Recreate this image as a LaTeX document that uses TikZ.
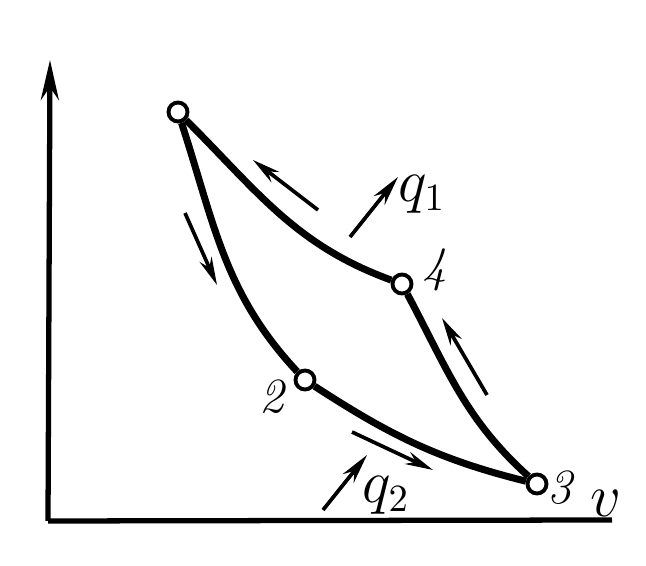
\documentclass[tikz,border=0pt]{standalone}
\usetikzlibrary{arrows.meta}
\begin{document}
\begin{tikzpicture}[
    state/.style={circle, draw, fill=white, line width=1.1pt, inner sep=0pt, minimum size=0.19cm},
    branch/.style={line width=2pt},
    flow/.style={line width=1.05pt, -{Stealth[length=2.8mm,width=1.3mm]}},
    heat/.style={line width=1.05pt, -{Stealth[length=3mm,width=1.4mm]}},
    numlbl/.style={font=\fontsize{14}{16}\selectfont\itshape},
    varlbl/.style={font=\fontsize{16}{18}\selectfont}
]
    \useasboundingbox (0,0) rectangle (6.46,5.66);

    % axes
    \coordinate (o) at (0.48,0.45);
    \coordinate (ytop) at (0.50,5.06);
    \coordinate (xend) at (6.12,0.46);
    \draw[line width=1.5pt, -{Stealth[length=4mm,width=1.8mm]}] (o) -- (ytop);
    \draw[line width=1.5pt] (o) -- (xend);
    \node[varlbl] (v) at (6.06,0.63) {$v$};

    % states
    \node[state] (p1) at (1.78,4.54) {};
    \node[state] (p4) at (4.02,2.82) {};
    \node[state] (p2) at (3.05,1.86) {};
    \node[state] (p3) at (5.37,0.82) {};
    \node[numlbl] (l4) at (4.35,2.96) {4};
    \node[numlbl] (l2) at (2.72,1.69) {2};
    \node[numlbl] (l3) at (5.60,0.78) {3};

    % cycle
    \draw[branch] (p1) to[out=-45,in=160] (p4);
    \draw[branch] (p4) to[out=-62,in=138] (p3);
    \draw[branch] (p1) to[out=-72,in=133] (p2);
    \draw[branch] (p2) to[out=-33,in=166] (p3);

    % direction arrows
    \coordinate (a14s) at (3.18,3.56);
    \coordinate (a14e) at (2.53,4.06);
    \coordinate (a12s) at (1.85,3.53);
    \coordinate (a12e) at (2.17,2.81);
    \coordinate (a23s) at (3.52,1.34);
    \coordinate (a23e) at (4.33,0.96);
    \coordinate (a43s) at (4.87,1.71);
    \coordinate (a43e) at (4.42,2.48);
    \draw[flow] (a14s) -- (a14e);
    \draw[flow] (a12s) -- (a12e);
    \draw[flow] (a23s) -- (a23e);
    \draw[flow] (a43s) -- (a43e);

    % heat
    \coordinate (q1s) at (3.50,3.29);
    \coordinate (q1e) at (3.98,3.89);
    \coordinate (q2s) at (3.23,0.56);
    \coordinate (q2e) at (3.67,1.11);
    \draw[heat] (q1s) -- (q1e);
    \draw[heat] (q2s) -- (q2e);
    \node[varlbl] (q1) at (4.22,3.72) {$q_1$};
    \node[varlbl] (q2) at (3.86,0.71) {$q_2$};
\end{tikzpicture}
\end{document}
